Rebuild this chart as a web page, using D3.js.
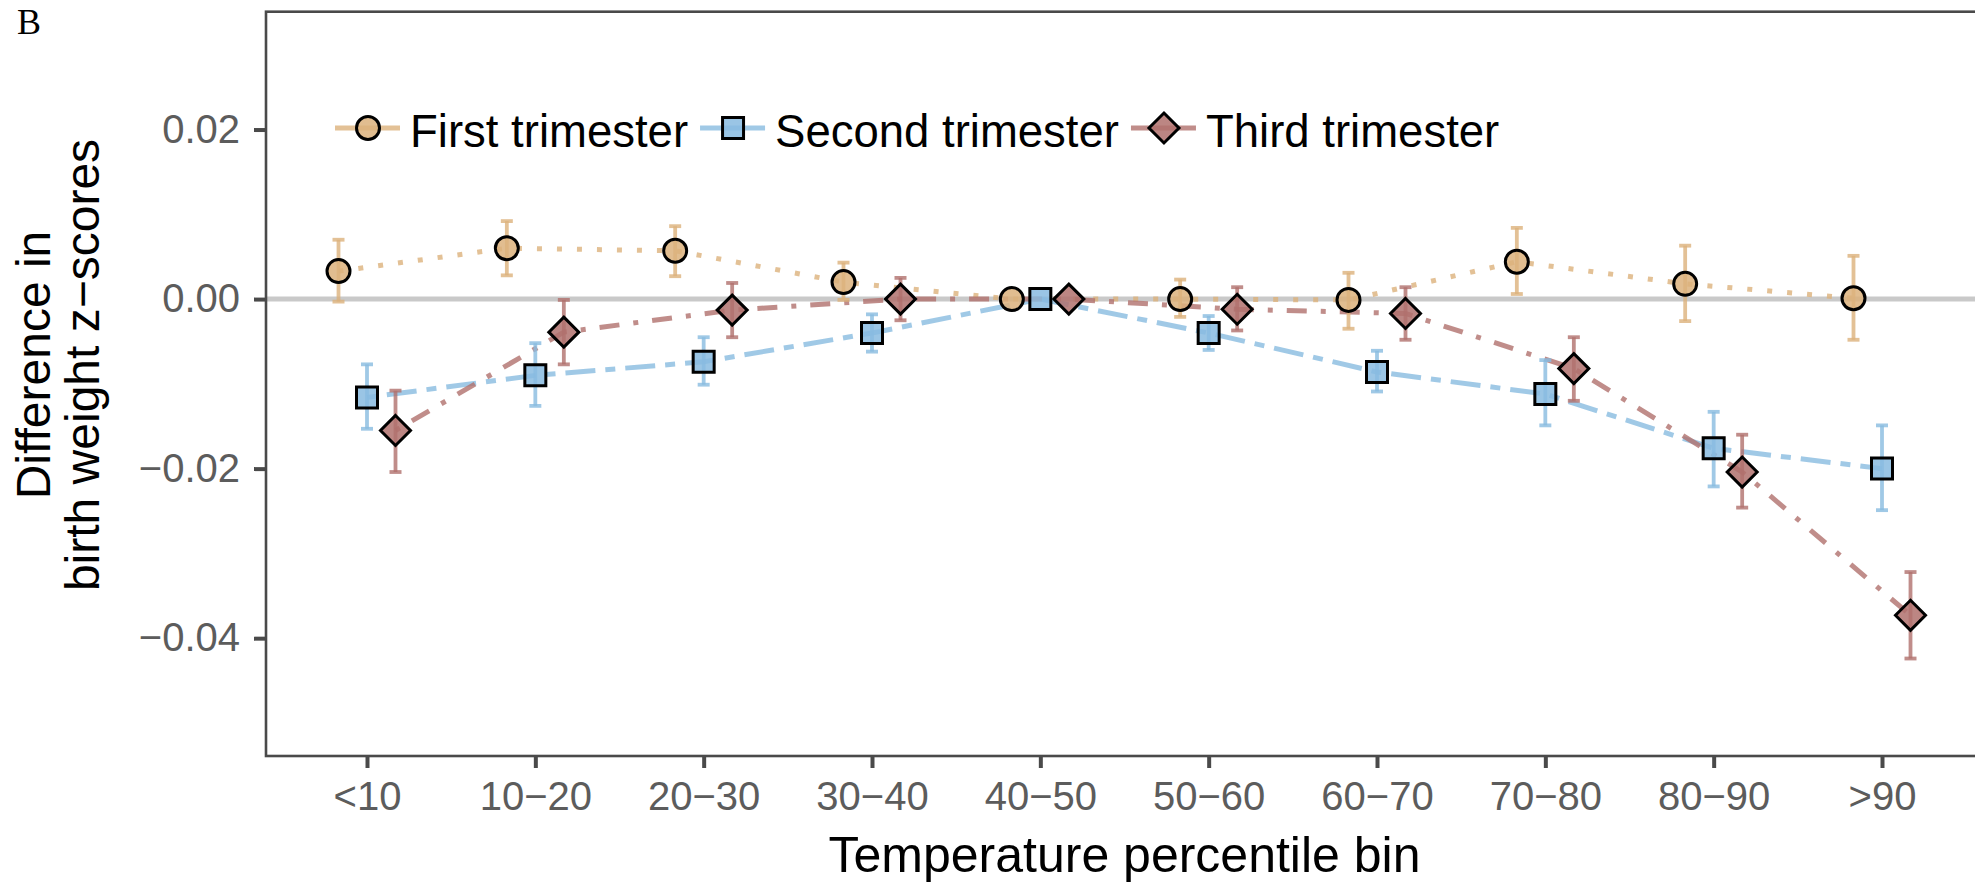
<!DOCTYPE html>
<html>
<head>
<meta charset="utf-8">
<script src="https://cdn.jsdelivr.net/npm/d3@7"></script>
<style>
  body { margin: 0; background: #ffffff; }
  svg { display: block; font-family: "Liberation Sans", Arial, sans-serif; }
</style>
</head>
<body>
<div id="chart"><svg width="1975" height="882"></svg></div>
<script>
var bins = ["<10", "10\u221220", "20\u221230", "30\u221240", "40\u221250", "50\u221260", "60\u221270", "70\u221280", "80\u221290", ">90"];
var seriesNames = ["First trimester", "Second trimester", "Third trimester"];
var yTicks = [-0.04, -0.02, 0, 0.02];

// point estimates, per bin
var firstEst  = [0.0033, 0.0060, 0.0057, 0.0020, 0, 0.0000, -0.0001, 0.0044, 0.0018, 0.0001];
var secondEst = [-0.0116, -0.0090, -0.0074, -0.0040, 0, -0.0040, -0.0086, -0.0112, -0.0176, -0.0200];
var thirdEst  = [-0.0155, -0.0039, -0.0013, 0.0000, 0, -0.0012, -0.0017, -0.0082, -0.0204, -0.0373];

// confidence interval bounds
var firstLo  = [-0.0003, 0.0028, 0.0027, -0.0001, 0, -0.0021, -0.0035, 0.0006, -0.0026, -0.0048];
var firstHi  = [0.0070, 0.0092, 0.0086, 0.0043, 0, 0.0023, 0.0031, 0.0084, 0.0063, 0.0051];
var secondLo = [-0.0153, -0.0126, -0.0101, -0.0062, 0, -0.0060, -0.0109, -0.0149, -0.0221, -0.0249];
var secondHi = [-0.0077, -0.0052, -0.0045, -0.0018, 0, -0.0020, -0.0061, -0.0072, -0.0133, -0.0149];
var thirdLo  = [-0.0204, -0.0077, -0.0045, -0.0025, 0, -0.0037, -0.0048, -0.0120, -0.0246, -0.0424];
var thirdHi  = [-0.0108, -0.0001, 0.0019, 0.0025, 0, 0.0014, 0.0014, -0.0045, -0.0160, -0.0322];

var colors = ["#dcb27c", "#88bbe0", "#b0716d"];
var dashes = ["5,15", "10,10,30,10", "5,14,20,14"];
var shapes = ["circle", "square", "diamond"];
var offsets = [-28.5, 0, 28.5];

var series = [
  {name: seriesNames[0], est: firstEst, lo: firstLo, hi: firstHi},
  {name: seriesNames[1], est: secondEst, lo: secondLo, hi: secondHi},
  {name: seriesNames[2], est: thirdEst, lo: thirdLo, hi: thirdHi}
];

var svg = d3.select("#chart").select("svg");
var panel = {left: 266, top: 11.7, right: 1983, bottom: 756};

var x = d3.scalePoint()
    .domain(bins)
    .range([panel.left, panel.right])
    .padding(0.6);

var y = d3.scaleLinear()
    .domain([-0.0539, 0.0339])
    .range([panel.bottom, panel.top]);

function symbolPath(shape) {
  if (shape == "circle") return "M-11.5,0A11.5,11.5 0 1,0 11.5,0A11.5,11.5 0 1,0 -11.5,0Z";
  if (shape == "square") return "M-10.5,-10.5H10.5V10.5H-10.5Z";
  return "M0,-15L15,0L0,15L-15,0Z";
}

// zero reference line
svg.append("line")
    .attr("x1", panel.left).attr("x2", panel.right)
    .attr("y1", y(0)).attr("y2", y(0))
    .attr("stroke", "#c9c9c9")
    .attr("stroke-width", 5);

// dashed connecting lines
var line = d3.line()
    .x(function(d) { return d.x; })
    .y(function(d) { return y(d.v); });

series.forEach(function(s, i) {
  var pts = s.est.map(function(v, j) {
    return {x: x(bins[j]) + offsets[i], v: v, lo: s.lo[j], hi: s.hi[j]};
  });
  s.pts = pts;

  svg.append("path")
      .datum(pts)
      .attr("d", line)
      .attr("fill", "none")
      .attr("stroke", colors[i])
      .attr("stroke-opacity", 0.8)
      .attr("stroke-width", 5)
      .attr("stroke-dasharray", dashes[i]);
});

series.forEach(function(s, i) {
  var bars = svg.append("g")
      .attr("stroke", colors[i])
      .attr("stroke-opacity", 0.8)
      .attr("stroke-width", 3.8)
    .selectAll("g")
    .data(s.pts.filter(function(d) { return d.hi != d.lo; }))
    .enter().append("g");

  bars.append("line")
      .attr("x1", function(d) { return d.x; })
      .attr("x2", function(d) { return d.x; })
      .attr("y1", function(d) { return y(d.hi); })
      .attr("y2", function(d) { return y(d.lo); });
  bars.append("line")
      .attr("x1", function(d) { return d.x - 6; })
      .attr("x2", function(d) { return d.x + 6; })
      .attr("y1", function(d) { return y(d.hi); })
      .attr("y2", function(d) { return y(d.hi); });
  bars.append("line")
      .attr("x1", function(d) { return d.x - 6; })
      .attr("x2", function(d) { return d.x + 6; })
      .attr("y1", function(d) { return y(d.lo); })
      .attr("y2", function(d) { return y(d.lo); });

  svg.append("g")
    .selectAll("path")
    .data(s.pts)
    .enter().append("path")
      .attr("transform", function(d) { return "translate(" + d.x + "," + y(d.v) + ")"; })
      .attr("d", symbolPath(shapes[i]))
      .attr("fill", colors[i])
      .attr("fill-opacity", 0.85)
      .attr("stroke", "#000000")
      .attr("stroke-width", 3);
});

// axes
var yAxis = svg.append("g")
    .attr("transform", "translate(" + panel.left + ",0)")
    .call(d3.axisLeft(y).tickValues(yTicks).tickFormat(d3.format(".2f")).tickSize(12).tickPadding(14));
var xAxis = svg.append("g")
    .attr("transform", "translate(0," + panel.bottom + ")")
    .call(d3.axisBottom(x).tickSize(12).tickPadding(14));

[yAxis, xAxis].forEach(function(a) {
  a.select(".domain").remove();
  a.selectAll(".tick line").attr("stroke", "#4a4a4a").attr("stroke-width", 4);
  a.selectAll(".tick text")
      .attr("fill", "#5c5c5c")
      .attr("font-size", 40)
      .attr("font-family", "Liberation Sans, Arial, sans-serif");
});

// panel border
svg.append("rect")
    .attr("x", panel.left)
    .attr("y", panel.top)
    .attr("width", panel.right - panel.left)
    .attr("height", panel.bottom - panel.top)
    .attr("fill", "none")
    .attr("stroke", "#4a4a4a")
    .attr("stroke-width", 2.6);

// axis titles
svg.append("text")
    .attr("x", (panel.left + panel.right) / 2)
    .attr("y", 872)
    .attr("text-anchor", "middle")
    .attr("font-size", 50)
    .attr("fill", "#000000")
    .text("Temperature percentile bin");

var yTitle = ["Difference in", "birth weight z\u2212scores"];
svg.selectAll(".ytitle")
    .data(yTitle)
    .enter().append("text")
      .attr("class", "ytitle")
      .attr("transform", function(d, i) { return "translate(" + (50 + i * 49) + ",365) rotate(-90)"; })
      .attr("text-anchor", "middle")
      .attr("font-size", 48)
      .attr("fill", "#000000")
      .text(function(d) { return d; });

// panel tag
svg.append("text")
    .attr("x", 17)
    .attr("y", 34)
    .attr("font-family", "Liberation Serif, Times New Roman, serif")
    .attr("font-size", 36)
    .attr("fill", "#000000")
    .text("B");

// legend
var legendX = 335;
var legendY = 128;
series.forEach(function(s, i) {
  var g = svg.append("g").attr("transform", "translate(" + legendX + "," + legendY + ")");
  g.append("line")
      .attr("x1", 0).attr("x2", 65)
      .attr("stroke", colors[i])
      .attr("stroke-opacity", 0.8)
      .attr("stroke-width", 5);
  g.append("path")
      .attr("transform", "translate(33,0)")
      .attr("d", symbolPath(shapes[i]))
      .attr("fill", colors[i])
      .attr("fill-opacity", 0.85)
      .attr("stroke", "#000000")
      .attr("stroke-width", 3);
  var t = g.append("text")
      .attr("x", 75)
      .attr("y", 18.5)
      .attr("font-size", 45.5)
      .attr("fill", "#000000")
      .text(s.name);
  legendX += 75 + t.node().getComputedTextLength() + 12;
});
</script>
</body>
</html>
